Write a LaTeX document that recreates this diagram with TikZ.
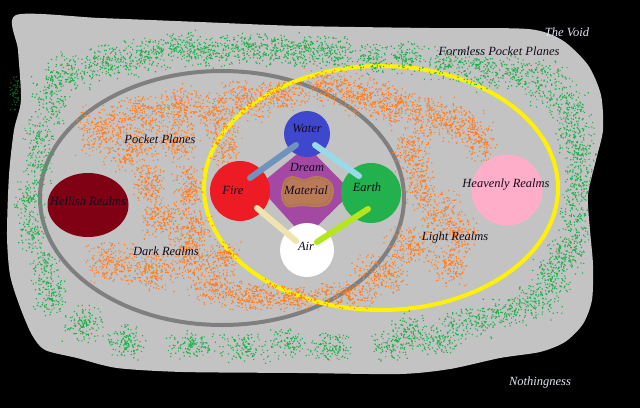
\documentclass[tikz,border=0pt]{standalone}
\usepackage{fontspec}
\setmainfont{Liberation Serif}
\usetikzlibrary{shapes.geometric,calc}
\definecolor{bgblack}{RGB}{0,0,0}
\definecolor{blobgrey}{RGB}{195,195,195}
\definecolor{spraygreen}{RGB}{34,177,76}
\definecolor{straygreen}{RGB}{10,95,35}
\definecolor{sprayorange}{RGB}{255,127,39}
\definecolor{ringgrey}{RGB}{127,127,127}
\definecolor{ringyellow}{RGB}{255,242,0}
\definecolor{hellred}{RGB}{128,0,20}
\definecolor{heavenpink}{RGB}{255,174,201}
\definecolor{waterblue}{RGB}{63,72,204}
\definecolor{firered}{RGB}{237,28,36}
\definecolor{earthgreen}{RGB}{34,177,76}
\definecolor{dreampurple}{RGB}{163,73,164}
\definecolor{matbrown}{RGB}{185,122,87}
\definecolor{matedge}{RGB}{150,95,65}
\definecolor{linksteel}{RGB}{112,146,190}
\definecolor{linksky}{RGB}{153,217,234}
\definecolor{linkcream}{RGB}{239,228,176}
\definecolor{linklime}{RGB}{181,230,29}
\definecolor{inkdark}{RGB}{20,10,30}
\definecolor{inklight}{RGB}{225,230,245}
\begin{document}
\begin{tikzpicture}[x=1pt,y=-1pt,
  lbl/.style={font=\fontsize{12.5}{14}\selectfont\itshape, text=inkdark, inner sep=0pt},
  lbllight/.style={lbl, text=inklight},
  orb/.style={circle, draw=none, inner sep=0pt},
  conn/.style={line width=6pt, line cap=round},
]
\pgfmathsetseed{7}
\useasboundingbox (0,0) rectangle (640,408);
\fill[bgblack] (0,0) rectangle (640,408);

% grey blob
\path[save path=\blobpath] plot[smooth cycle, tension=0.45] coordinates {
 (16,15) (100,18) (200,22) (300,26) (430,28) (528,29) (562,40) (588,65) (601,95)
 (603,130) (596,160) (588,195) (590,230) (593,265) (592,300) (583,324) (565,342)
 (540,352) (500,358) (450,369) (400,374) (300,373) (183,372) (117,368) (77,358)
 (45,350) (32,335) (20,307) (10,275) (7,235) (9,175) (14,130) (21,100) (18,50)};
\fill[blobgrey, use path=\blobpath];

% rings
\draw[ringgrey, line width=4pt] (222,198) ellipse [x radius=182, y radius=127];
\draw[ringyellow, line width=4pt] (381,188) ellipse [x radius=177, y radius=122];

% stray dots on the black edge
\fill[straygreen] \foreach \k in {1,...,50}{ ({14+7*(rand+rand)/2},{92+20*(rand+rand)/2}) rectangle ++(1.2,1.2) };

% green spray
\begin{scope}
\clip[use path=\blobpath];
\foreach \cx/\cy/\rx/\ry/\nn in {
 50/100/22/32/150, 70/72/28/22/150, 110/62/32/20/170, 145/54/28/18/140,
 178/46/28/18/130, 205/52/28/18/140, 240/48/28/18/140, 275/48/28/18/150,
 305/50/28/18/150, 335/52/22/18/120, 370/58/18/18/110, 405/57/18/18/110,
 445/63/28/18/120, 480/70/28/22/140, 515/72/28/20/130, 548/85/28/28/150,
 570/110/22/28/140, 575/140/20/28/140, 580/170/17/28/120, 578/200/17/28/110,
 573/230/17/28/120, 565/255/20/22/120, 550/275/22/22/130, 535/300/28/22/150,
 505/312/28/17/120, 470/322/32/17/140, 440/338/28/17/120, 410/332/22/22/120,
 390/345/22/17/100, 330/345/28/17/130, 290/343/22/17/100, 245/347/28/17/130,
 190/345/28/17/130, 125/340/22/20/130, 82/322/22/22/130, 50/295/20/22/120,
 45/265/17/22/100, 32/230/17/25/100, 28/198/17/22/100, 40/165/17/22/100, 38/135/17/20/80}{
 \fill[spraygreen] \foreach \k in {1,...,\nn}{ ({\cx+\rx*(rand+rand)/2},{\cy+\ry*(rand+rand)/2}) rectangle ++(1.2,1.2) };
}
\end{scope}

% orange spray
\foreach \cx/\cy/\rx/\ry/\nn in {
 100/130/28/28/230, 140/115/33/22/250, 180/105/28/22/210, 130/150/28/22/190,
 175/140/22/22/180, 148/185/17/22/170, 188/190/17/28/180, 160/218/22/22/190,
 192/228/22/22/180, 110/262/28/22/210, 150/270/33/22/230, 190/257/28/22/210,
 215/285/28/22/210, 252/295/33/17/230, 292/298/33/14/200, 215/115/22/28/180,
 245/100/28/22/210, 282/95/28/17/190, 330/86/28/20/210, 362/96/28/22/210,
 395/105/28/22/210, 430/115/28/22/200, 460/125/28/22/190, 480/142/17/22/120,
 410/150/22/28/180, 420/185/17/28/160, 440/215/22/28/190, 462/232/17/22/120,
 410/245/28/22/190, 380/275/33/22/230, 345/295/33/14/180, 450/265/22/22/140,
 225/145/17/22/120, 225/255/17/17/120}{
 \fill[sprayorange] \foreach \k in {1,...,\nn}{ ({\cx+\rx*(rand+rand)/2},{\cy+\ry*(rand+rand)/2}) rectangle ++(1.2,1.2) };
}

% dream diamond
\fill[dreampurple] (307,146) -- (258,186) -- (305,238) -- (352,192) -- cycle;

% realms
\node[ellipse, fill=hellred, draw=none, minimum width=81, minimum height=64, inner sep=0pt] (hell) at (88,205) {};
\node[orb, fill=heavenpink, minimum size=71] (heaven) at (507,190) {};

% elements
\node[orb, fill=waterblue, minimum size=46] (water) at (307,134) {};
\node[orb, fill=firered, minimum size=60] (fire) at (240,191) {};
\node[orb, fill=earthgreen, minimum size=60] (earth) at (371,193) {};
\node[orb, fill=white, minimum size=54] (air) at (307,250) {};

% material blob
\fill[matbrown] plot[smooth cycle, tension=0.6] coordinates {
 (284,181) (292,176) (304,179) (316,176) (329,180) (334,191) (329,204)
 (316,207) (302,206) (287,207) (281,196)};
\draw[matedge, densely dotted, line width=0.6pt] plot[smooth cycle, tension=0.6] coordinates {
 (286,182) (293,178) (304,181) (316,178) (327,182) (331,191) (327,202)
 (316,205) (302,204) (288,205) (283,196)};

% connectors
\draw[conn, linksteel] ([shift={(10,-13)}]fire.center) -- ([shift={(-11,11)}]water.center);
\draw[conn, linksky] ([shift={(8,11)}]water.center) -- ([shift={(-12,-17)}]earth.center);
\draw[conn, linkcream] ([shift={(17,17)}]fire.center) -- ([shift={(-11,-9)}]air.center);
\draw[conn, linklime] ([shift={(-3,16)}]earth.center) -- ([shift={(10,-8)}]air.center);

% labels
\node[lbl] (hellT) at (88,201) {Hellish Realms};
\node[lbl] (heavenT) at (506,185) {Heavenly Realms};
\node[lbl] (waterT) at (307,128) {Water};
\node[lbl] (fireT) at (233,190) {Fire};
\node[lbl] (earthT) at (367,187) {Earth};
\node[lbl] (airT) at (306,246) {Air};
\node[lbl] (dreamT) at (307,167) {Dream};
\node[lbl] (matT) at (306,190) {Material};
\node[lbl] (pocketT) at (160,139) {Pocket Planes};
\node[lbl] (darkT) at (166,251) {Dark Realms};
\node[lbl] (lightT) at (455,237) {Light Realms};
\node[lbl] (formlessT) at (499,51) {Formless Pocket Planes};
\node[lbllight] (voidT) at (567,32) {The Void};
\node[lbllight] (nothingT) at (540,382) {Nothingness};
\end{tikzpicture}
\end{document}
